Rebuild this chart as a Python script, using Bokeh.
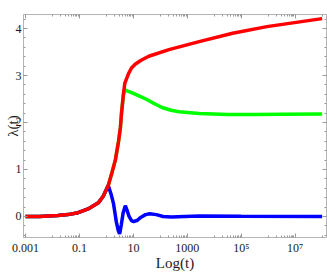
import numpy as np
from bokeh.plotting import figure
from bokeh.models import (Range1d, FixedTicker, SingleIntervalTicker, LogAxis, LinearAxis,
                          CustomJSTickFormatter)
from bokeh.embed import file_html
from bokeh.resources import INLINE

# ---- data ----
red_t = [0.001, 0.00316, 0.0158, 0.0372, 0.0891, 0.209, 0.501, 0.759, 1.17, 1.58, 2.14, 2.82,
         3.31, 3.63, 4.27, 4.79, 6.61, 8.5, 11.7, 18.6, 37.2, 209, 2750, 47900, 891000, 1.0e8]
red_v = [0.0, 0.0, 0.02, 0.04, 0.08, 0.16, 0.29, 0.43, 0.66, 0.92, 1.2, 1.6,
         1.9, 2.2, 2.6, 2.83, 3.04, 3.16, 3.24, 3.32, 3.41, 3.55, 3.72, 3.90, 4.04, 4.21]

green_t = [0.001, 0.00316, 0.0158, 0.0372, 0.0891, 0.209, 0.501, 0.759, 1.17, 1.58, 2.14, 2.82,
           3.31, 3.63, 4.27, 5.01, 6.61, 10.0, 18.6, 28.8, 56.2, 115, 251, 490, 2750, 31600,
           316000, 3.16e6, 1.0e8]
green_v = [0.0, 0.0, 0.02, 0.04, 0.08, 0.16, 0.29, 0.43, 0.66, 0.92, 1.2, 1.6,
           1.9, 2.2, 2.6, 2.69, 2.66, 2.62, 2.55, 2.50, 2.41, 2.32, 2.26, 2.23, 2.19, 2.17,
           2.17, 2.175, 2.18]

blue_t = [0.001, 0.00316, 0.0158, 0.0372, 0.0891, 0.209, 0.501, 0.759, 1.17, 1.48, 1.82, 2.34,
          2.75, 3.09, 3.55, 4.17, 5.01, 5.75, 6.92, 8.51, 10.2, 14.1, 18.6, 28.2, 39.8, 70.8,
          126, 251, 794, 2750, 1.0e5, 1.0e8]
blue_v = [0.0, 0.0, 0.02, 0.04, 0.08, 0.16, 0.29, 0.43, 0.66, 0.48, 0.28, -0.12,
          -0.30, -0.37, -0.18, 0.08, 0.23, 0.14, 0.0, -0.09, -0.11, -0.08, -0.02, 0.04, 0.06, 0.04,
          0.0, -0.01, 0.0, 0.01, 0.005, 0.0]

x_ticks = [0.001, 0.1, 10, 1000, 1e5, 1e7]
x_tick_labels = ["0.001", "0.1", "10", "1000", "10\u2075", "10\u2077"]
x_minor = sorted(set([10.0 ** k for k in range(-3, 9)] +
                     [m * 10.0 ** k for k in (-2, 0, 2, 4, 6) for m in range(2, 10)]))
y_ticks = [0, 1, 2, 3, 4]
x_label = "Log(t)"
y_label = "\u03bb(t)"

FONT = "Liberation Serif"
FRAME = "#b4b4b4"
TICK = "#999999"
TXT = "#1a1a1a"

p = figure(width=327, height=273, x_axis_type="log", output_backend="svg",
           toolbar_location=None, x_axis_location=None, y_axis_location=None,
           x_range=Range1d(10 ** -3.075, 10 ** 8.161), y_range=Range1d(-0.447, 4.298),
           min_border_left=23, min_border_right=1, min_border_top=14, min_border_bottom=36)
p.grid.visible = False
p.outline_line_color = FRAME
p.background_fill_color = "white"
p.border_fill_color = "white"

fmt = CustomJSTickFormatter(args=dict(tv=x_ticks, tl=x_tick_labels), code="""
const i = tv.findIndex(t => Math.abs(Math.log10(t) - Math.log10(tick)) < 1e-6);
return i >= 0 ? tl[i] : "";
""")
blank = CustomJSTickFormatter(code="return '';")


def style(ax, labels=True):
    ax.axis_line_color = FRAME
    ax.major_tick_line_color = TICK
    ax.minor_tick_line_color = TICK
    ax.major_tick_in = 4
    ax.major_tick_out = 0
    ax.minor_tick_in = 2
    ax.minor_tick_out = 0
    ax.major_label_text_font = FONT
    ax.axis_label_text_font = FONT
    ax.axis_label_text_font_style = "normal"
    ax.axis_label_text_color = TXT
    ax.axis_label_text_font_size = "15px"
    if labels:
        ax.major_label_text_font_size = "12px"
        ax.major_label_text_color = TXT
        ax.major_label_standoff = 3
    else:
        ax.major_label_text_font_size = "1px"
        ax.major_label_standoff = 0


xb = LogAxis(ticker=FixedTicker(ticks=x_ticks, minor_ticks=x_minor), formatter=fmt,
             axis_label=x_label)
xt = LogAxis(ticker=FixedTicker(ticks=x_ticks, minor_ticks=x_minor), formatter=blank)
yl = LinearAxis(ticker=SingleIntervalTicker(interval=1, num_minor_ticks=5), axis_label=y_label)
yr = LinearAxis(ticker=SingleIntervalTicker(interval=1, num_minor_ticks=5), formatter=blank)
style(xb)
xb.axis_label_standoff = -3
style(xt, labels=False)
style(yl)
yl.major_label_standoff = 2
yl.axis_label_standoff = -8
style(yr, labels=False)
p.add_layout(xb, "below")
p.add_layout(xt, "above")
p.add_layout(yl, "left")
p.add_layout(yr, "right")

p.line(green_t, green_v, line_color="#00ff00", line_width=3.5)
p.line(blue_t, blue_v, line_color="#0000ff", line_width=3.5)
p.line(red_t, red_v, line_color="#ff0000", line_width=3.5)

open("out.html", "w").write(file_html(p, INLINE))
